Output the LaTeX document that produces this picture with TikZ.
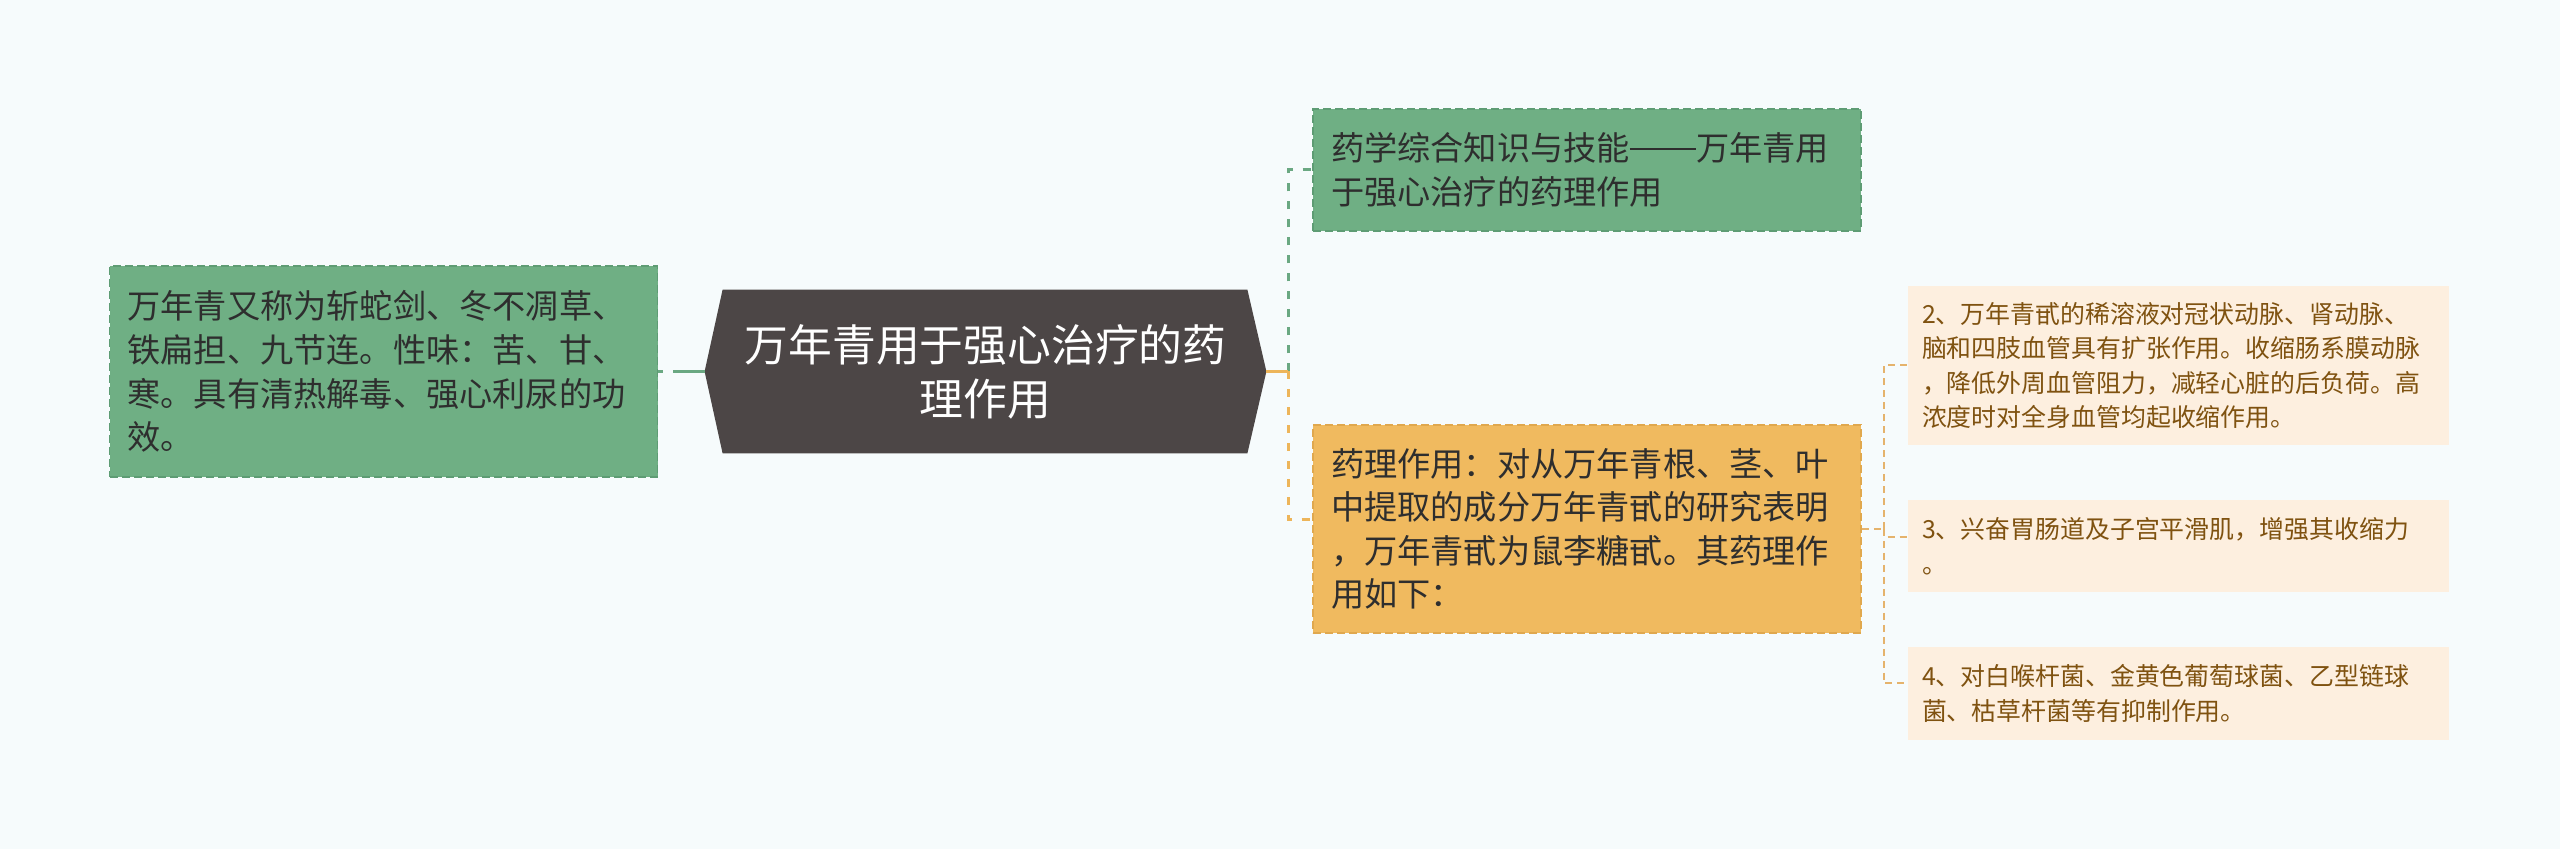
\documentclass[tikz,border=0pt]{standalone}
\usepackage{fontspec}
\setmainfont{Noto Sans CJK SC}
\usetikzlibrary{calc}
\pgfdeclarelayer{bg}
\pgfsetlayers{bg,main}
\definecolor{bgc}{HTML}{F6FBFC}
\definecolor{gfill}{HTML}{6FAF84}
\definecolor{gborder}{HTML}{5E9C74}
\definecolor{ofill}{HTML}{F0BA5F}
\definecolor{oborder}{HTML}{E0A84E}
\definecolor{hexc}{HTML}{4C4646}
\definecolor{sfill}{HTML}{FDEFDF}
\definecolor{stext}{HTML}{7F5210}
\definecolor{dtext}{HTML}{2E2E2E}
\definecolor{glinec}{HTML}{6AA882}
\definecolor{olinec}{HTML}{EDB55A}
\definecolor{slinec}{HTML}{E5B36C}
\newcommand{\longdash}{\rule[0.33em]{2em}{0.06em}}
\begin{document}
\begin{tikzpicture}[x=0.5pt,y=-0.5pt,
  bigbox/.style={rectangle, align=left, inner ysep=0pt, inner xsep=9pt,
    text width=256pt, minimum width=274pt, text=dtext,
    font=\fontsize{16.6pt}{21.8pt}\selectfont, line width=0.8pt,
    dash pattern=on 4pt off 2pt},
  smallbox/.style={rectangle, align=left, inner ysep=0pt, inner xsep=7pt,
    text width=256.5pt, minimum width=270.5pt, text=stext, fill=sfill,
    font=\fontsize{12.45pt}{17.25pt}\selectfont},
  titlebox/.style={rectangle, align=center, inner sep=0pt, text=white,
    minimum width=280.5pt, minimum height=81.5pt,
    font=\fontsize{21.9pt}{27pt}\selectfont},
  gconn/.style={draw=glinec, line width=1.5pt, dash pattern=on 4pt off 5pt},
  oconn/.style={draw=olinec, line width=1.5pt, dash pattern=on 4pt off 5pt},
  sconn/.style={draw=slinec, line width=1pt, dash pattern=on 3.5pt off 2.5pt}
]
\useasboundingbox (0,0) rectangle (2560,849);
\begin{pgfonlayer}{bg}
\fill[bgc] (0,0) rectangle (2560,849);
\end{pgfonlayer}

\node[titlebox] (c) at (985.5,371.5) {万年青用于强心治疗的药\\理作用};
\begin{pgfonlayer}{bg}
\fill[hexc] (c.west) -- ([xshift=9pt]c.north west) -- ([xshift=-9.5pt]c.north east)
  -- (c.east) -- ([xshift=-9.5pt]c.south east) -- ([xshift=9pt]c.south west) -- cycle;
\end{pgfonlayer}

\node[bigbox, fill=gfill, draw=gborder, minimum height=105.5pt] (lbox) at (383.5,371.5)
  {万年青又称为斩蛇剑、冬不凋草、\\铁扁担、九节连。性味：苦、甘、\\寒。具有清热解毒、强心利尿的功\\效。};

\node[bigbox, fill=gfill, draw=gborder, minimum height=61pt] (gbox) at (1587,170)
  {药学综合知识与技能\longdash 万年青用\\于强心治疗的药理作用};

\node[bigbox, fill=ofill, draw=oborder, minimum height=104pt] (obox) at (1587,529)
  {药理作用：对从万年青根、茎、叶\\中提取的成分万年青甙的研究表明\\，万年青甙为鼠李糖甙。其药理作\\用如下：};

\node[smallbox, minimum height=79.5pt] (s2) at (2178.5,365.5)
  {2、万年青甙的稀溶液对冠状动脉、肾动脉、\\脑和四肢血管具有扩张作用。收缩肠系膜动脉\\，降低外周血管阻力，减轻心脏的后负荷。高\\浓度时对全身血管均起收缩作用。};

\node[smallbox, minimum height=46pt] (s3) at (2178.5,546)
  {3、兴奋胃肠道及子宫平滑肌，增强其收缩力\\。};

\node[smallbox, minimum height=46.5pt] (s4) at (2178.5,693.5)
  {4、对白喉杆菌、金黄色葡萄球菌、乙型链球\\菌、枯草杆菌等有抑制作用。};

% connectors
\draw[draw=glinec, line width=1.6pt, dash pattern=on 16pt off 5pt] (c.west) -- (lbox.east);

\coordinate (jr) at ([xshift=-12pt]gbox.west |- c.east);
\draw[gconn] (jr) |- (gbox.west);
\draw[oconn] (jr) |- ([yshift=4.5pt]obox.west);
\draw[draw=olinec, line width=1.5pt] (c.east) -- (jr);

\coordinate (jo) at ([xshift=-12pt]s2.west |- obox.east);
\draw[sconn] (obox.east) -- (jo);
\draw[sconn] (jo) |- (s2.west);
\draw[sconn] (jo) |- ([yshift=4.5pt]s3.west);
\draw[sconn] (jo) |- ([yshift=5pt]s4.west);
\end{tikzpicture}
\end{document}
